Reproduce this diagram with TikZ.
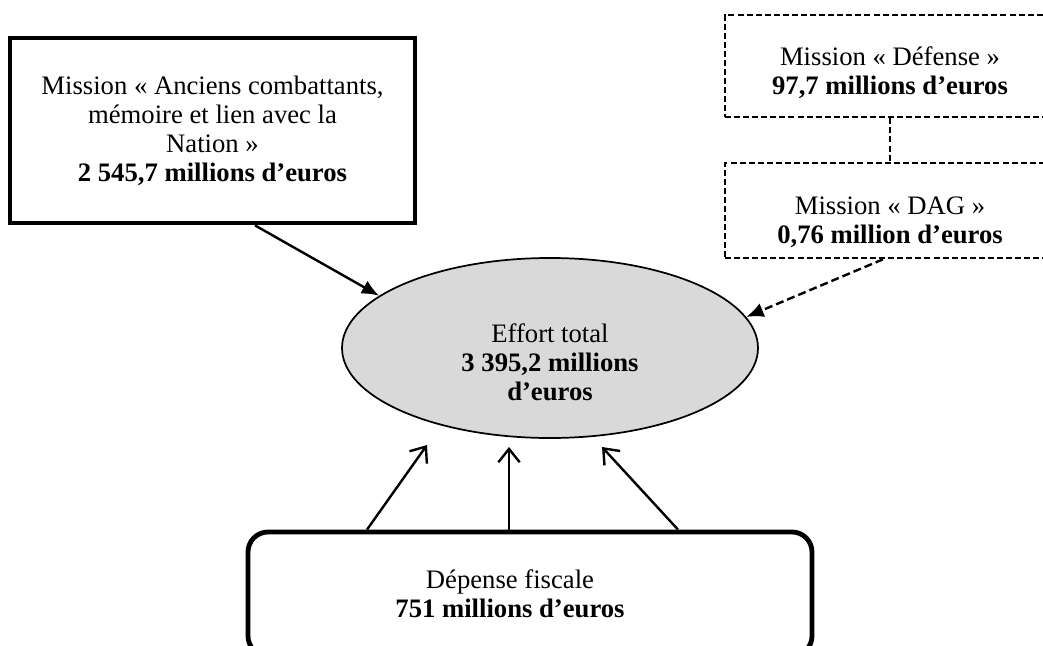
\documentclass[tikz,border=0pt]{standalone}
\usepackage{fontspec}
\setmainfont{Liberation Serif}
\usetikzlibrary{shapes.geometric,arrows.meta,calc}
\definecolor{ellfill}{HTML}{D9D9D9}
\begin{document}
\begin{tikzpicture}[x=0.75pt,y=-0.75pt,
  txt/.style={align=center,font=\fontsize{20}{21.75}\selectfont,inner sep=0pt},
  solidbox/.style={draw,line width=3.6pt,rectangle,inner sep=0pt},
  roundbox/.style={draw,line width=3.6pt,rectangle,rounded corners=15pt,inner sep=0pt},
  dashbox/.style={draw,line width=2pt,dash pattern=on 4.5pt off 2.3pt,rectangle,inner sep=0pt},
  ellbox/.style={draw,line width=1.3pt,ellipse,fill=ellfill,inner sep=0pt},
  fullarrow/.style={line width=1.8pt,-{Latex[length=13pt,width=11pt]}},
  dasharrow/.style={line width=1.8pt,dash pattern=on 6pt off 3pt,-{Latex[length=13pt,width=11pt]}},
  openarrow/.style={line width=1.8pt,-{Straight Barb[length=10pt,width=16pt,line width=1.8pt]}},
  dashlink/.style={line width=2pt,dash pattern=on 4.5pt off 2.3pt}
]
\useasboundingbox (0,0) rectangle (1043,646);

% left box
\node[solidbox,minimum width=303.75pt,minimum height=138.75pt] (mis) at (212.5,130.5) {};
\node[txt] (mist) at (212.5,130.5) {Mission «~Anciens combattants,\\mémoire et lien avec la\\Nation~»\\\textbf{2 545,7 millions d’euros}};

% defense box
\node[dashbox,minimum width=247.5pt,minimum height=76.5pt] (def) at (890,66) {};
\node[txt] (deft) at (890,72.5) {Mission «~Défense~»\\\textbf{97,7 millions d’euros}};

% DAG box
\node[dashbox,minimum width=247.5pt,minimum height=71.25pt] (dag) at (890,210.5) {};
\node[txt] (dagt) at (890,222) {Mission «~DAG~»\\\textbf{0,76 million d’euros}};

% ellipse
\node[ellbox,minimum width=312pt,minimum height=135pt] (tot) at (550,348) {};
\node[txt] (tott) at (550,362) {Effort total\\\textbf{3 395,2 millions}\\\textbf{d’euros}};

% bottom box
\node[roundbox,minimum width=423pt,minimum height=93pt] (fisc) at (530,594) {};
\node[txt] (fisct) at (510,594) {Dépense fiscale\\\textbf{751 millions d’euros}};

% connectors
\draw[dashlink] (def.south) -- (dag.north);
\draw[fullarrow] ($(mis.south)+(42.5,0)$) -- (tot.163);
\draw[dasharrow] ($(dag.south)+(-7,0)$) -- (tot.9);

\coordinate (h1) at (427,445);
\coordinate (h2) at (509,447);
\coordinate (h3) at (602,447);
\draw[openarrow] ($(fisc.north)+(-163,0)$) -- (h1);
\draw[openarrow] ($(fisc.north)+(-21,0)$) -- (h2);
\draw[openarrow] ($(fisc.north)+(148,0)$) -- (h3);
\end{tikzpicture}
\end{document}
